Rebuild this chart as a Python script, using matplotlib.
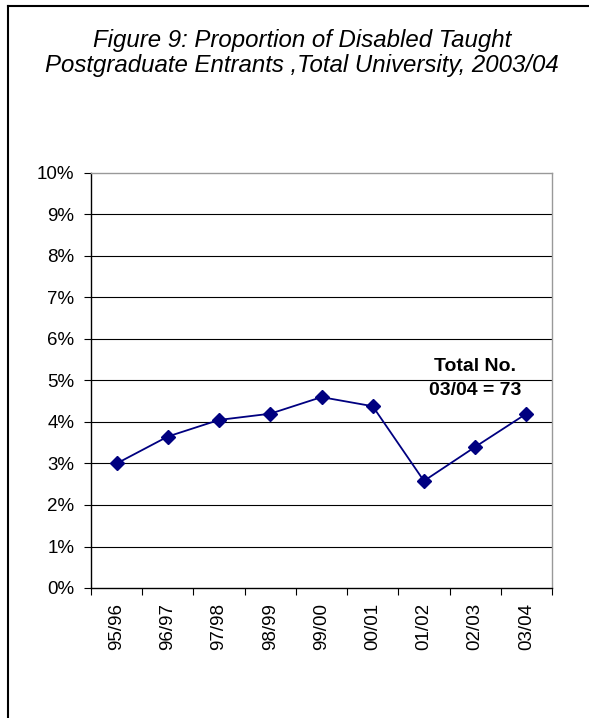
import matplotlib
matplotlib.use("Agg")
import matplotlib.pyplot as plt
import matplotlib.lines as mlines
import numpy as np

years = ['95/96', '96/97', '97/98', '98/99', '99/00', '00/01', '01/02', '02/03', '03/04']
pct = [3.0, 3.65, 4.05, 4.2, 4.6, 4.38, 2.58, 3.4, 4.2]
yticks = list(range(0, 11))

plt.rcParams['font.family'] = ['Liberation Sans', 'DejaVu Sans']

fig = plt.figure(figsize=(5.89, 7.18), dpi=100)
ax = fig.add_axes([91/589, 1 - 588/718, (552 - 91)/589, (588 - 173)/718])

x = np.arange(len(years))
ax.plot(x, pct, color='#000080', lw=1.3, marker='D', ms=7.5, zorder=5)

ax.set_xlim(-0.5, len(years) - 0.5)
ax.set_ylim(0, 10)
ax.set_yticks(yticks)
ax.set_yticklabels(['%d%%' % t for t in yticks], fontsize=13.5)
for t in yticks[1:-1]:
  ax.axhline(t, color='black', lw=0.8, zorder=1)

ax.set_xticks(x)
ax.set_xticklabels(years, rotation=90, fontsize=13.5)
ax.set_xticks(np.arange(-0.5, len(years)), minor=True)
ax.tick_params(axis='x', which='major', length=0, pad=11)
ax.tick_params(axis='x', which='minor', length=5, direction='out', width=0.8)
ax.tick_params(axis='y', length=5, direction='out', width=0.8, pad=7)

ax.spines['left'].set_color('black')
ax.spines['bottom'].set_color('black')
ax.spines['top'].set_color('#999999')
ax.spines['right'].set_color('#999999')
for s in ax.spines.values():
  s.set_linewidth(1.0)

ax.text(7.0, 5.04, 'Total No.\n03/04 = 73', ha='center', va='center', fontsize=14,
        fontweight='bold', linespacing=1.55)

fig.text(302/589, 1 - 53/718, 'Figure 9: Proportion of Disabled Taught\nPostgraduate Entrants ,Total University, 2003/04',
         ha='center', va='center', fontsize=17.3, style='italic', linespacing=1.12)

# outer chart border (only top and left edges fall inside the image)
fig.add_artist(mlines.Line2D([8/589, 1.0], [1 - 6/718, 1 - 6/718], color='black', lw=1.5, transform=fig.transFigure))
fig.add_artist(mlines.Line2D([8/589, 8/589], [0.0, 1 - 6/718], color='black', lw=1.5, transform=fig.transFigure))

fig.savefig('out.png', dpi=100)
